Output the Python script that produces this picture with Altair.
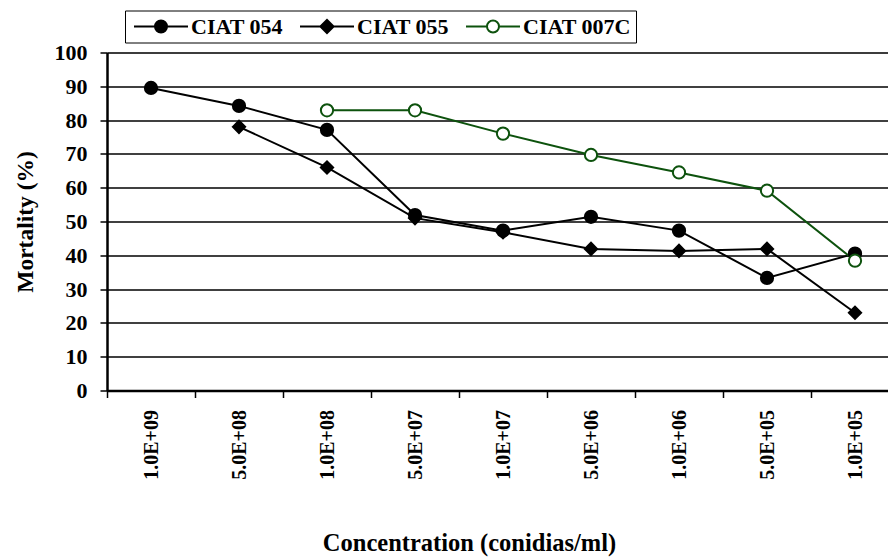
import altair as alt
import pandas as pd

# Conidial concentrations (categorical x axis, in the order they were tested)
concentrations = ["1.0E+09", "5.0E+08", "1.0E+08", "5.0E+07", "1.0E+07",
                  "5.0E+06", "1.0E+06", "5.0E+05", "1.0E+05"]
series_names = ["CIAT 054", "CIAT 055", "CIAT 007C"]

# Mortality (%) per isolate; None where the isolate was not tested
ciat_054 = [89.5, 84.2, 77.1, 51.9, 47.3, 51.4, 47.3, 33.3, 40.5]
ciat_055 = [None, 78.0, 66.0, 51.0, 46.8, 41.9, 41.3, 41.9, 23.0]
ciat_007c = [None, None, 82.9, 82.9, 76.0, 69.7, 64.5, 59.1, 38.4]

GREEN = "#0d520d"
FONT = "Liberation Serif"

rows = []
for name, vals in zip(series_names, [ciat_054, ciat_055, ciat_007c]):
    for i, (c, v) in enumerate(zip(concentrations, vals)):
        if v is not None:
            rows.append({"isolate": name, "conc": c, "idx": i, "mortality": v})
df = pd.DataFrame(rows)

x_enc = alt.X(
    "conc:N",
    sort=concentrations,
    bandPosition=0.5,
    scale=alt.Scale(type="band", domain=concentrations, range=[0, 792],
                    paddingInner=0, paddingOuter=0),
    axis=alt.Axis(
        title="Concentration (conidias/ml)",
        labelAngle=270,
        tickBand="extent",
        grid=False,
        domainColor="black", domainWidth=2.5,
        tickColor="black", tickWidth=1.5, tickSize=7,
        labelPadding=12,
        labelFont=FONT, labelFontSize=20, labelFontWeight="bold", labelColor="black",
        titleFont=FONT, titleFontSize=24.5, titleFontWeight="bold", titleColor="black",
        titleX=362, titleY=160, titleBaseline="alphabetic", titleAlign="center",
    ),
)
y_enc = alt.Y(
    "mortality:Q",
    scale=alt.Scale(domain=[0, 100], nice=False),
    axis=alt.Axis(
        title="Mortality (%)",
        values=list(range(0, 101, 10)),
        grid=True, gridColor="black", gridWidth=1.5,
        domainColor="black", domainWidth=2.5,
        tickColor="black", tickWidth=1.5, tickSize=7,
        labelPadding=13,
        labelFont=FONT, labelFontSize=22, labelFontWeight="bold", labelColor="black",
        titleFont=FONT, titleFontSize=23.5, titleFontWeight="bold", titleColor="black",
        titleX=-82, titleBaseline="middle",
    ),
)

# Legend glyphs: a short line segment with the series marker in the middle
circle_path = "M-4.5,0H-1M1,0H4.5M-1,0A1,1 0 1,0 1,0A1,1 0 1,0 -1,0Z"
diamond_path = "M-4.5,0H-1.1M1.1,0H4.5M-1.1,0L0,-1.1L1.1,0L0,1.1Z"

legend = alt.Legend(
    title=None,
    orient="none",
    legendX=18,
    legendY=-42,
    direction="horizontal",
    columns=3,
    padding=5,
    strokeColor="black",
    fillColor="white",
    cornerRadius=0,
    symbolSize=144,
    symbolStrokeWidth=2,
    symbolOpacity=1,
    symbolOffset=20,
    labelOffset=19,
    columnPadding=13,
    labelFont=FONT, labelFontSize=22, labelFontWeight="bold", labelColor="black",
)

fill_range = ["black", "black", "white"]
stroke_range = ["black", "black", GREEN]

lines = alt.Chart(df).mark_line(strokeWidth=2).encode(
    x=x_enc,
    y=y_enc,
    color=alt.Color("isolate:N", legend=None,
                    scale=alt.Scale(domain=series_names, range=stroke_range)),
    order=alt.Order("idx:Q"),
)

points = alt.Chart(df).mark_point(filled=False, strokeWidth=2, opacity=1).encode(
    x=x_enc,
    y=y_enc,
    shape=alt.Shape("isolate:N", legend=None,
                    scale=alt.Scale(domain=series_names, range=["circle", "diamond", "circle"])),
    fill=alt.Fill("isolate:N", legend=None,
                  scale=alt.Scale(domain=series_names, range=fill_range)),
    stroke=alt.Stroke("isolate:N", legend=None,
                      scale=alt.Scale(domain=series_names, range=stroke_range)),
    size=alt.Size("isolate:N", legend=None,
                  scale=alt.Scale(domain=series_names, range=[150, 150, 120])),
)

# Layer that only carries the legend (no data rows reach its marks)
legend_layer = alt.Chart(df).transform_filter(alt.datum.idx < 0).mark_point(
    filled=False, strokeWidth=2
).encode(
    x=x_enc,
    y=y_enc,
    shape=alt.Shape("isolate:N", legend=legend,
                    scale=alt.Scale(domain=series_names,
                                    range=[circle_path, diamond_path, circle_path])),
    fill=alt.Fill("isolate:N", legend=legend,
                  scale=alt.Scale(domain=series_names, range=fill_range)),
    stroke=alt.Stroke("isolate:N", legend=legend,
                      scale=alt.Scale(domain=series_names, range=stroke_range)),
)

chart = (
    alt.layer(lines, points, legend_layer)
    .resolve_scale(shape="independent", fill="independent", stroke="independent",
                   size="independent")
    .properties(
        width=781,
        height=338,
        autosize=alt.AutoSizeParams(type="none"),
        padding={"left": 107, "top": 52.5, "right": 0, "bottom": 168.5},
    )
    .configure_view(stroke=None)
    .configure(background="white")
)

chart.save("out.html", embed_options={"renderer": "svg", "actions": False})
